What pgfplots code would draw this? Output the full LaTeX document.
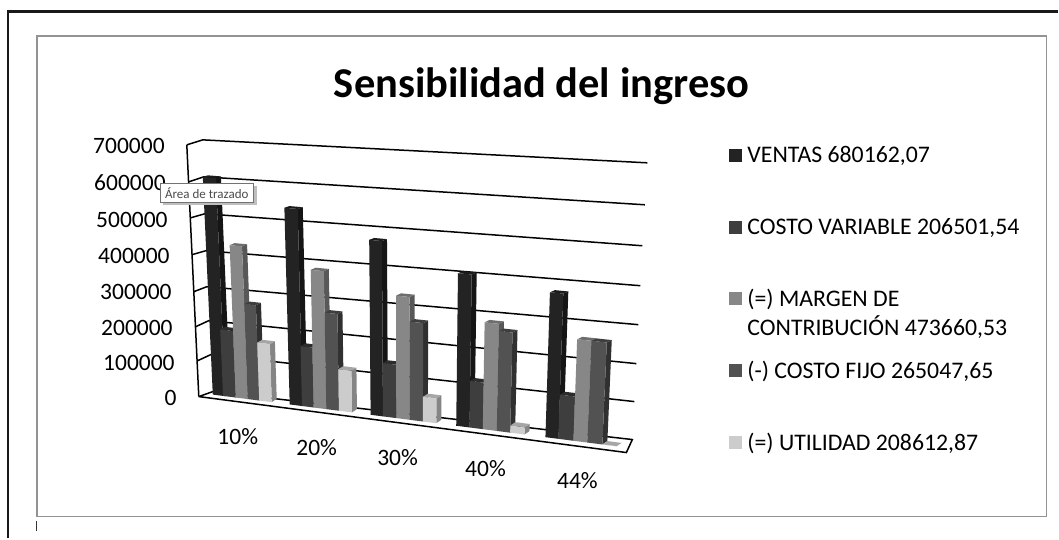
\documentclass[border=0pt]{standalone}
\usepackage{fontspec}
\setmainfont{Carlito}
\usepackage{pgfplots}
\pgfplotsset{compat=1.18}
\definecolor{grid}{HTML}{7A7A7A}
\definecolor{fA}{HTML}{232323}\definecolor{sA}{HTML}{151515}\definecolor{tA}{HTML}{1B1B1B}
\definecolor{fB}{HTML}{3E3E3E}\definecolor{sB}{HTML}{262626}\definecolor{tB}{HTML}{2C2C2C}
\definecolor{fC}{HTML}{878787}\definecolor{sC}{HTML}{585858}\definecolor{tC}{HTML}{6E6E6E}
\definecolor{fD}{HTML}{525252}\definecolor{sD}{HTML}{303030}\definecolor{tD}{HTML}{3E3E3E}
\definecolor{fE}{HTML}{CCCCCC}\definecolor{sE}{HTML}{858585}\definecolor{tE}{HTML}{A6A6A6}
% \barthreed{left x at floor}{right x at floor}{value in thousands}{colour letter}
\newcommand{\barthreed}[4]{%
  \pgfmathsetmacro{\Xa}{#1}\pgfmathsetmacro{\Xb}{#2}\pgfmathsetmacro{\V}{#3/100}%
  \pgfmathsetmacro{\Ba}{395+(\Xa-213)*0.128}\pgfmathsetmacro{\Bb}{395+(\Xb-213)*0.128}%
  \pgfmathsetmacro{\Sa}{35.6+(\Xa-213)*0.00744}\pgfmathsetmacro{\Sb}{35.6+(\Xb-213)*0.00744}%
  \pgfmathsetmacro{\La}{-1.63+(\Xa-213)*0.00844}\pgfmathsetmacro{\Lb}{-1.63+(\Xb-213)*0.00844}%
  \pgfmathsetmacro{\TAx}{\Xa+\V*\La}\pgfmathsetmacro{\TAy}{\Ba-\V*\Sa}%
  \pgfmathsetmacro{\TBx}{\Xb+\V*\Lb}\pgfmathsetmacro{\TBy}{\Bb-\V*\Sb}%
  \pgfmathsetmacro{\BBx}{\Xb+5}\pgfmathsetmacro{\BBy}{\Bb-3.3}%
  \pgfmathsetmacro{\BTx}{\TBx+5}\pgfmathsetmacro{\BTy}{\Bb-3.3-\V*\Sb*0.992}%
  \pgfmathsetmacro{\CTx}{\TAx+5}\pgfmathsetmacro{\CTy}{\Ba-3.3-\V*\Sa*0.992}%
  \edef\temp{\noexpand\addplot[fill=s#4,draw=none,forget plot] coordinates {(\Xb,\Bb)(\BBx,\BBy)(\BTx,\BTy)(\TBx,\TBy)} -- cycle;
    \noexpand\addplot[fill=t#4,draw=none,forget plot] coordinates {(\TAx,\TAy)(\TBx,\TBy)(\BTx,\BTy)(\CTx,\CTy)} -- cycle;
    \noexpand\addplot[fill=f#4,draw=none,forget plot] coordinates {(\Xa,\Ba)(\Xb,\Bb)(\TBx,\TBy)(\TAx,\TAy)} -- cycle;}%
  \temp}
\begin{document}
\begin{tikzpicture}
\begin{axis}[
  width=1059pt,height=539pt,scale only axis,
  xmin=0,xmax=1059,ymin=0,ymax=539,y dir=reverse,
  hide axis,clip=false,
]
\path (axis cs:0,0) rectangle (axis cs:1059,539);
% outer frame and chart area
\addplot[black!90,line width=2.2pt,forget plot] coordinates {(8,539)(8,11.5)(1059,11.5)};
\addplot[fill=white,draw=gray!85,line width=1.2pt,forget plot] coordinates {(37,36)(1047.5,36)(1047.5,517)(37,517)} -- cycle;
\addplot[black!80,line width=1pt,forget plot] coordinates {(37,522)(37,532)};
% walls and gridlines
\addplot[grid,line width=1.5pt,forget plot] coordinates {(187,145)(203,140)(648,163)};
\addplot[grid,line width=1.5pt,forget plot] coordinates {(189,182)(204,177)(645.5,205)};
\addplot[grid,line width=1.5pt,forget plot] coordinates {(191,218)(205,214)(643,246)};
\addplot[grid,line width=1.5pt,forget plot] coordinates {(192,255)(206,251)(641,286)};
\addplot[grid,line width=1.5pt,forget plot] coordinates {(194,292)(207,287)(639,325)};
\addplot[grid,line width=1.5pt,forget plot] coordinates {(196,327)(209,321)(637,364)};
\addplot[grid,line width=1.5pt,forget plot] coordinates {(198,361)(211,355)(635,402)};
\addplot[grid,line width=1.5pt,forget plot] coordinates {(187,145)(199,397)};
\addplot[grid,line width=1.5pt,forget plot] coordinates {(199,397)(213,392)(633,440)(627,453)(199,397)};
% 10 %
\barthreed{213}{225.5}{612.146}{A}
\barthreed{223.3}{236}{185.851}{B}
\barthreed{236}{248}{426.295}{C}
\barthreed{248}{259.5}{265.048}{D}
\barthreed{259.5}{272}{161.247}{E}
% 20 %
\barthreed{290}{302.8}{544.130}{A}
\barthreed{302.3}{314}{165.201}{B}
\barthreed{314}{326.7}{378.928}{C}
\barthreed{326.7}{339.3}{265.048}{D}
\barthreed{339.3}{352.3}{113.881}{E}
% 30 %
\barthreed{371}{383.3}{476.113}{A}
\barthreed{383.3}{396.7}{144.551}{B}
\barthreed{396.7}{410}{331.562}{C}
\barthreed{410}{423.3}{265.048}{D}
\barthreed{423.3}{436.7}{66.515}{E}
% 40 %
\barthreed{456.7}{470}{408.097}{A}
\barthreed{470}{483.3}{123.901}{B}
\barthreed{483.3}{497.3}{284.196}{C}
\barthreed{497.3}{510.7}{265.048}{D}
\barthreed{510.7}{525}{19.148}{E}
% 44 %
\barthreed{546}{559}{380.891}{A}
\barthreed{559}{574}{115.641}{B}
\barthreed{574}{588}{265.250}{C}
\barthreed{588}{603}{265.048}{D}
\barthreed{603}{617}{0.203}{E}
% title
\node[font=\fontsize{42.5}{46}\selectfont\bfseries,anchor=center] at (axis cs:542,86) {Sensibilidad del ingreso};
% value labels
\foreach \t/\x/\y in {700000/165/146,600000/166/183,500000/168/220,400000/170/256,300000/172/292,200000/173/328,100000/175/363,0/177/398}{
  \edef\temp{\noexpand\node[font=\noexpand\fontsize{23.5}{24}\noexpand\selectfont,anchor=east,inner sep=0pt] at (axis cs:\x,\y) {\t};}\temp}
% category labels
\foreach \t/\x/\y in {10/238/437,20/317/448,30/398/458,40/486/469,44/578/481}{
  \edef\temp{\noexpand\node[font=\noexpand\fontsize{23.5}{24}\noexpand\selectfont,inner sep=0pt] at (axis cs:\x,\y) {\t\noexpand\%};}\temp}
% legend
\addplot[only marks,mark=square*,mark size=6pt,mark options={fA,draw=none},forget plot] coordinates {(736,155)};
\addplot[only marks,mark=square*,mark size=6pt,mark options={fB,draw=none},forget plot] coordinates {(736,227)};
\addplot[only marks,mark=square*,mark size=6pt,mark options={fC,draw=none},forget plot] coordinates {(736,299)};
\addplot[only marks,mark=square*,mark size=6pt,mark options={fD,draw=none},forget plot] coordinates {(736,371)};
\addplot[only marks,mark=square*,mark size=6pt,mark options={fE,draw=none},forget plot] coordinates {(736,443)};
\begin{scope}[every node/.style={font=\fontsize{23.8}{29}\selectfont,anchor=base west,inner sep=0pt}]
\node at (axis cs:748,163) {VENTAS 680162,07};
\node at (axis cs:748,235) {COSTO VARIABLE 206501,54};
\node at (axis cs:748,307) {(=) MARGEN DE};
\node at (axis cs:748,336) {CONTRIBUCIÓN 473660,53};
\node at (axis cs:748,379) {(-) COSTO FIJO 265047,65};
\node at (axis cs:748,451) {(=) UTILIDAD 208612,87};
\end{scope}
% tooltip
\addplot[fill=black!25,draw=none,forget plot] coordinates {(163,186)(257,186)(257,205)(163,205)} -- cycle;
\addplot[fill=white,draw=black!55,line width=0.8pt,forget plot] coordinates {(161,183.5)(254,183.5)(254,202.5)(161,202.5)} -- cycle;
\node[font=\fontsize{13}{14}\selectfont,text=black!70,inner sep=0pt] at (axis cs:207,193) {Área de trazado};
\end{axis}
\end{tikzpicture}
\end{document}
